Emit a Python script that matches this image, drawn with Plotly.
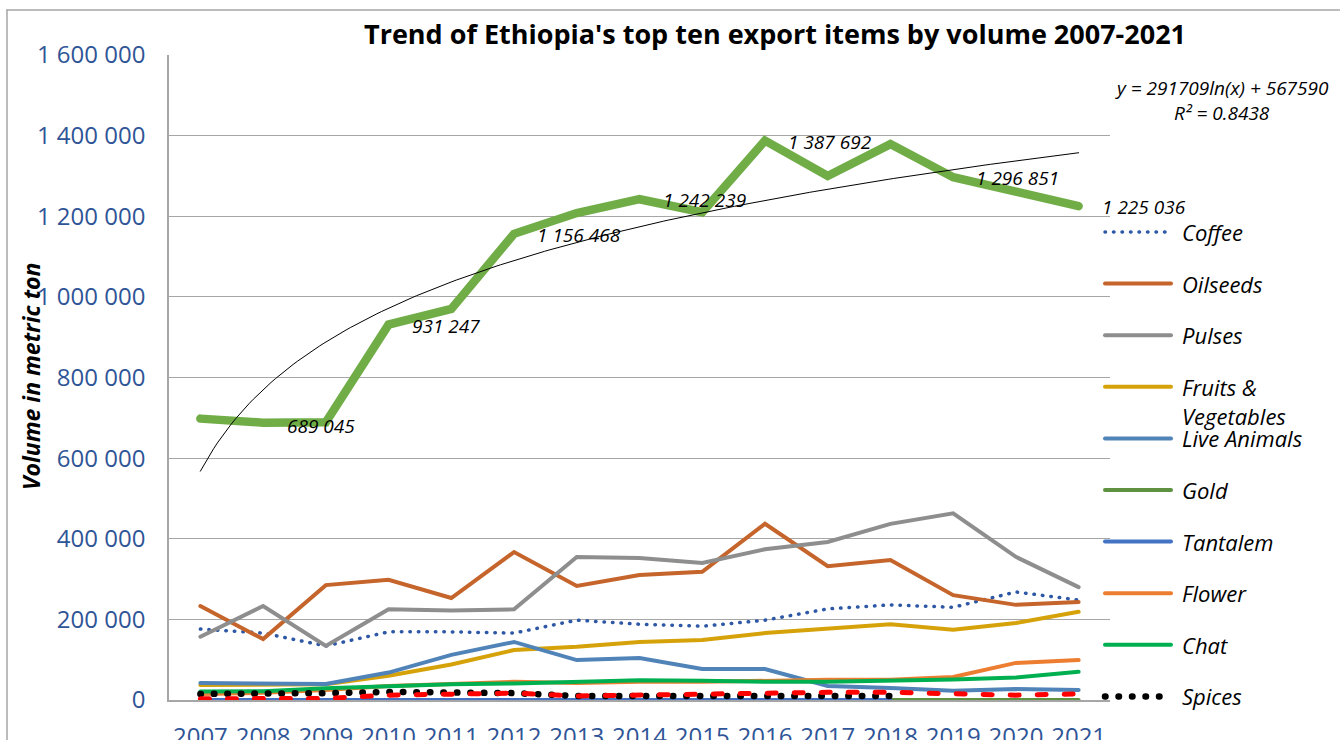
import numpy as np
import plotly.graph_objects as go

# ---- data (metric tons) ----
years = list(range(2007, 2022))
year_labels = [str(y) for y in years]

total_volume = [698000, 688000, 689045, 931247, 970000, 1156468, 1208000, 1242239,
                1210000, 1387692, 1300000, 1379000, 1296851, 1262000, 1225036]
coffee = [176000, 166000, 134000, 169000, 169000, 166000, 198000, 188000,
          183000, 198000, 226000, 236000, 230000, 268000, 248000]
oilseeds = [233000, 151000, 285000, 298000, 253000, 367000, 283000, 310000,
            318000, 437000, 332000, 347000, 260000, 236000, 243000]
pulses = [157000, 233000, 134000, 225000, 222000, 225000, 355000, 352000,
          340000, 374000, 392000, 437000, 463000, 355000, 280000]
fruits_vegetables = [37000, 38000, 39000, 60000, 88000, 124000, 132000, 144000,
                     149000, 166000, 178000, 188000, 174000, 191000, 219000]
live_animals = [42000, 41000, 40000, 68000, 112000, 144000, 99000, 104000,
                77000, 77000, 35000, 30000, 23000, 27000, 25000]
gold = [4, 4, 4, 4, 4, 6, 9, 8, 10, 12, 10, 9, 8, 7, 9]
tantalem = [150, 180, 170, 160, 140, 130, 120, 110, 100, 90, 80, 70, None, None, None]
flower = [15000, 18000, 25000, 35000, 40000, 45000, 42000, 45000,
          45000, 48000, 50000, 50000, 57000, 92000, 99000]
chat = [21000, 22000, 29000, 35000, 39000, 41000, 45000, 49000,
        48000, 45000, 45000, 47000, 51000, 56000, 70000]
spices = [15000, 15000, 17000, 20000, 20000, 17000, 10000, 10000,
          12000, 12000, 10000, 10000, None, None, None]
other_items = [3000, 3000, 4000, 12000, 15000, 17000, 10000, 12000,
               17000, 17000, 19000, 19000, 17000, 12000, 15000]

# years whose total carries a value label
labelled_years = [2009, 2010, 2012, 2014, 2016, 2019, 2021]

# logarithmic trend of the total: y = a*ln(x) + b, x = 1..15
trend_a = 291709
trend_b = 567590
trend_r2 = 0.8438

# ---- figure geometry (pixels) ----
W, H = 1340, 740
PL, PR, PT, PB = 169, 1110, 55, 700


def px_x(p):
    return (p - PL) / (PR - PL)


def px_y(p):
    return (PB - p) / (PB - PT)


def fmt(v):
    return f"{v:,}".replace(",", " ")


series = [
    ("Coffee", coffee, dict(color="#2E58A6", width=3.5, dash="0.5px,8px")),
    ("Oilseeds", oilseeds, dict(color="#C5642B", width=4)),
    ("Pulses", pulses, dict(color="#8E8E8E", width=4)),
    ("Fruits & Vegetables", fruits_vegetables, dict(color="#D6A20A", width=4)),
    ("Live Animals", live_animals, dict(color="#5083B8", width=4)),
    ("Gold", gold, dict(color="#5E9140", width=4)),
    ("Tantalem", tantalem, dict(color="#4472C4", width=4)),
    ("Flower", flower, dict(color="#ED7D31", width=4)),
    ("Chat", chat, dict(color="#00B050", width=4)),
    ("Spices", spices, dict(color="#000000", width=6.5, dash="0.5px,13px")),
]

fig = go.Figure()

fig.add_trace(go.Scatter(x=years, y=total_volume, mode="lines", name="Total",
                         line=dict(color="#70AD47", width=8.5), showlegend=False))

for name, vals, style in series:
    fig.add_trace(go.Scatter(x=years, y=vals, mode="lines", name=name,
                             line=style, connectgaps=False, showlegend=False))

fig.add_trace(go.Scatter(x=years, y=other_items, mode="lines", name="Other",
                         line=dict(color="#FF0000", width=5, dash="9px,18px"),
                         showlegend=False))

# trend line
tx = np.linspace(years[0], years[-1], 200)
ty = trend_a * np.log(tx - years[0] + 1) + trend_b
fig.add_trace(go.Scatter(x=tx, y=ty, mode="lines", name="Log. (Total)",
                         line=dict(color="#000000", width=1), showlegend=False))

annotations = []
label_font = dict(family="Open Sans", size=19, color="#000000")

# value labels on the total line
for yr in labelled_years:
    v = total_volume[years.index(yr)]
    if yr == 2009:
        annotations.append(dict(x=yr, y=v, xref="x", yref="y", text=f"<i>{fmt(v)}</i>",
                                showarrow=False, xanchor="center", yanchor="middle",
                                xshift=-5, yshift=-4, font=label_font))
    else:
        annotations.append(dict(x=yr, y=v, xref="x", yref="y", text=f"<i>{fmt(v)}</i>",
                                showarrow=False, xanchor="left", yanchor="middle",
                                xshift=21, yshift=-1, font=label_font))

# trend equation
eq_font = dict(family="Open Sans", size=19, color="#000000")
annotations.append(dict(x=px_x(1222), y=px_y(88), xref="paper", yref="paper",
                        text=f"<i>y = {trend_a}ln(x) + {trend_b}</i>",
                        showarrow=False, xanchor="center", yanchor="middle", font=eq_font))
annotations.append(dict(x=px_x(1222), y=px_y(113), xref="paper", yref="paper",
                        text=f"<i>R² = {trend_r2}</i>",
                        showarrow=False, xanchor="center", yanchor="middle", font=eq_font))

# title
annotations.append(dict(x=px_x(775), y=px_y(34), xref="paper", yref="paper",
                        text="<b>Trend of Ethiopia's top ten export items by volume 2007-2021</b>",
                        showarrow=False, xanchor="center", yanchor="middle",
                        font=dict(family="Open Sans", size=27, color="#000000")))

# axis title
annotations.append(dict(x=px_x(31), y=px_y(377), xref="paper", yref="paper",
                        text="<b><i>Volume in metric ton</i></b>", textangle=-90,
                        showarrow=False, xanchor="center", yanchor="middle",
                        font=dict(family="Open Sans", size=23, color="#000000")))

shapes = []

# legend
leg_top, leg_step = 232, 51.6
leg_font = dict(family="Open Sans", size=22, color="#000000")
for i, (name, vals, style) in enumerate(series):
    py = leg_top + i * leg_step
    shapes.append(dict(type="line", xref="paper", yref="paper",
                       x0=px_x(1105), x1=px_x(1171), y0=px_y(py), y1=px_y(py),
                       line=dict(color=style["color"], width=style["width"],
                                 dash=style.get("dash", "solid"))))
    if name == "Fruits & Vegetables":
        parts = ["Fruits &", "Vegetables"]
        offs = [0, 29]
    else:
        parts = [name]
        offs = [0]
    for part, off in zip(parts, offs):
        annotations.append(dict(x=px_x(1180), y=px_y(py + off), xref="paper", yref="paper",
                                text=f"<i>{part}</i>", showarrow=False,
                                xanchor="left", yanchor="middle", font=leg_font))

# chart frame (left and top edges)
shapes.append(dict(type="line", xref="paper", yref="paper",
                   x0=px_x(7), x1=px_x(1345), y0=px_y(10), y1=px_y(10),
                   line=dict(color="#A6A6A6", width=1.5), layer="below"))
shapes.append(dict(type="line", xref="paper", yref="paper",
                   x0=px_x(7), x1=px_x(7), y0=px_y(10), y1=px_y(745),
                   line=dict(color="#A6A6A6", width=1.5), layer="below"))

fig.update_layout(
    width=W, height=H,
    margin=dict(l=PL, r=W - PR, t=PT, b=H - PB),
    paper_bgcolor="white", plot_bgcolor="white",
    separators=". ",
    showlegend=False,
    annotations=annotations,
    shapes=shapes,
    xaxis=dict(range=[years[0] - 0.5, years[-1] + 0.5],
               tickvals=years, ticktext=year_labels,
               showgrid=False, zeroline=False, automargin=False,
               showline=True, linecolor="#A6A6A6", linewidth=1.5,
               ticks="", ticklabelstandoff=14,
               tickfont=dict(family="Open Sans", size=24, color="#2F5597")),
    yaxis=dict(range=[0, 1600000], dtick=200000, tickformat=",d",
               showgrid=True, gridcolor="#A6A6A6", gridwidth=1,
               zeroline=False, automargin=False,
               showline=True, linecolor="#A6A6A6", linewidth=1.5,
               ticks="", ticklabelstandoff=17,
               tickfont=dict(family="Open Sans", size=24, color="#2F5597")),
)

round_caps = ("var s=document.createElement('style');"
              "s.textContent='.js-line, .shapelayer path {stroke-linecap: round;}';"
              "document.head.appendChild(s);")

fig.write_html("out.html", post_script=round_caps)
